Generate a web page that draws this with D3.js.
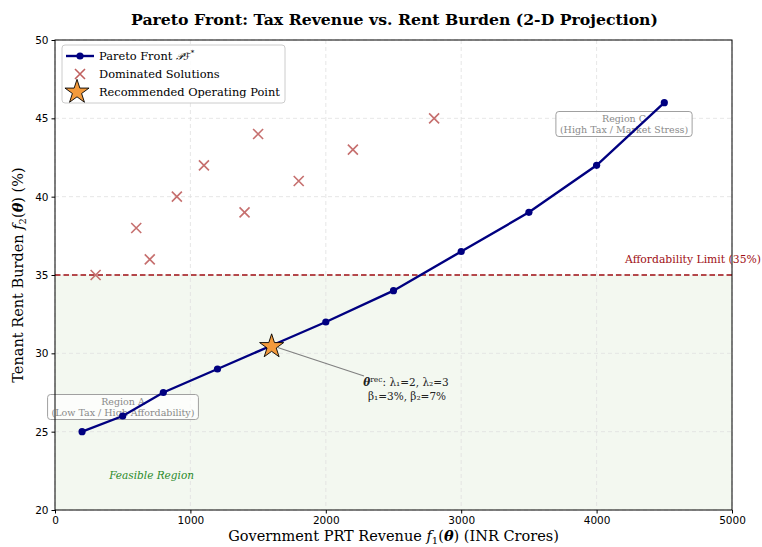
<!DOCTYPE html>
<html>
<head>
<meta charset="utf-8">
<script src="https://cdn.jsdelivr.net/npm/d3@7"></script>
<style>
  html, body { margin: 0; padding: 0; background: #fff; }
  svg { display: block; }
</style>
</head>
<body>
<svg id="chart" width="762" height="547"></svg>
<script>
// Pareto front (revenue in INR crores, rent burden in %)
const frontRevenue = [200, 500, 800, 1200, 1600, 2000, 2500, 3000, 3500, 4000, 4500];
const frontBurden  = [25, 26, 27.5, 29, 30.5, 32, 34, 36.5, 39, 42, 46];

// Dominated solutions
const domRevenue = [300, 600, 700, 900, 1100, 1400, 1500, 1800, 2200, 2800];
const domBurden  = [35, 38, 36, 40, 42, 39, 44, 41, 43, 45];

// Recommended operating point
const recRevenue = 1600;
const recBurden = 30.5;

// Affordability threshold (%)
const affordLimit = 35;

const xTicks = [0, 1000, 2000, 3000, 4000, 5000];
const yTicks = [20, 25, 30, 35, 40, 45, 50];

const svg = d3.select("#chart");
const m = { left: 55, right: 732, top: 40, bottom: 510 };
const serif = "'DejaVu Serif', serif";
const sans = "'DejaVu Sans', sans-serif";

const x = d3.scaleLinear().domain([0, 5000]).range([m.left, m.right]);
const y = d3.scaleLinear().domain([20, 50]).range([m.bottom, m.top]);

// Feasible region shading
svg.append("rect")
  .attr("x", x(0)).attr("y", y(affordLimit))
  .attr("width", x(5000) - x(0)).attr("height", y(20) - y(affordLimit))
  .attr("fill", "#eef5ea").attr("opacity", 0.7);

// Grid
const grid = svg.append("g");
xTicks.forEach(t => grid.append("line")
  .attr("x1", x(t)).attr("x2", x(t)).attr("y1", m.top).attr("y2", m.bottom)
  .attr("stroke", "#e0e0e0").attr("stroke-width", 0.8).attr("stroke-dasharray", "4,3"));
yTicks.forEach(t => grid.append("line")
  .attr("x1", m.left).attr("x2", m.right).attr("y1", y(t)).attr("y2", y(t))
  .attr("stroke", "#e0e0e0").attr("stroke-width", 0.8).attr("stroke-dasharray", "4,3"));

// Affordability limit line
svg.append("line")
  .attr("x1", m.left).attr("x2", m.right).attr("y1", y(affordLimit)).attr("y2", y(affordLimit))
  .attr("stroke", "#a00f15").attr("stroke-width", 1.5).attr("stroke-dasharray", "5.5,3");
svg.append("text")
  .attr("x", 761).attr("y", y(affordLimit) - 12.5)
  .attr("text-anchor", "end").attr("font-family", serif).attr("font-size", 10.8)
  .attr("fill", "#a00f15").text("Affordability Limit (35%)");

// Feasible region label
svg.append("text")
  .attr("x", x(400)).attr("y", y(22))
  .attr("font-family", serif).attr("font-size", 10.5).attr("font-style", "italic")
  .attr("fill", "#2a8a2a").text("Feasible Region");

// Region boxes (drawn beneath the front)
function regionBox(cx, cy, lines) {
  const g = svg.append("g");
  const texts = lines.map((l, i) => g.append("text")
    .attr("x", cx).attr("y", cy + (i - (lines.length - 1) / 2) * 11.5 + 3.5)
    .attr("text-anchor", "middle").attr("font-family", serif).attr("font-size", 9.5)
    .attr("fill", "#8a8a8a").text(l));
  let w = 0;
  texts.forEach(t => { w = Math.max(w, t.node().getComputedTextLength()); });
  g.insert("rect", "text")
    .attr("x", cx - w / 2 - 4).attr("y", cy - 12.5).attr("width", w + 8).attr("height", 25)
    .attr("rx", 3).attr("fill", "#ffffff").attr("fill-opacity", 0.7)
    .attr("stroke", "#a0a0a0").attr("stroke-width", 1);
}
regionBox(123, 407, ["Region A", "(Low Tax / High Affordability)"]);
regionBox(624, 124, ["Region C", "(High Tax / Market Stress)"]);

// Dominated solutions (x markers)
const xs = 5;
const dom = svg.append("g");
domRevenue.forEach((r, i) => {
  const cx = x(r), cy = y(domBurden[i]);
  dom.append("path")
    .attr("d", `M${cx - xs},${cy - xs}L${cx + xs},${cy + xs}M${cx - xs},${cy + xs}L${cx + xs},${cy - xs}`)
    .attr("stroke", "#c0605f").attr("stroke-width", 1.6).attr("opacity", 0.9);
});

// Pareto front line + markers
const frontData = frontRevenue.map((r, i) => [r, frontBurden[i]]);
svg.append("path")
  .datum(frontData)
  .attr("d", d3.line().x(d => x(d[0])).y(d => y(d[1])))
  .attr("fill", "none").attr("stroke", "#000080").attr("stroke-width", 2.4);
svg.append("g").selectAll("circle").data(frontData).join("circle")
  .attr("cx", d => x(d[0])).attr("cy", d => y(d[1])).attr("r", 3.6)
  .attr("fill", "#000080");

// Annotation arrow to recommended point
svg.append("line")
  .attr("x1", x(recRevenue) + 6).attr("y1", y(recBurden) + 2)
  .attr("x2", 364).attr("y2", 376)
  .attr("stroke", "#808080").attr("stroke-width", 1.2);
const ann = svg.append("text").attr("font-family", serif).attr("font-size", 10.5).attr("fill", "#222")
  .attr("text-anchor", "middle");
const l1 = ann.append("tspan").attr("x", 406).attr("y", 386);
l1.append("tspan").attr("font-weight", "bold").attr("font-style", "italic").text("θ");
l1.append("tspan").attr("font-size", 7.5).attr("dy", -4).text("rec");
l1.append("tspan").attr("dy", 4).text(": λ₁=2, λ₂=3");
ann.append("tspan").attr("x", 407).attr("y", 400).text("β₁=3%, β₂=7%");

// Recommended point (star)
const starPath = d3.symbol().type(d3.symbolStar).size(180)();
svg.append("path")
  .attr("d", starPath)
  .attr("transform", `translate(${x(recRevenue)},${y(recBurden) + 1})`)
  .attr("fill", "#f39a3c").attr("stroke", "#000").attr("stroke-width", 0.9);

// Axes frame
svg.append("rect")
  .attr("x", m.left).attr("y", m.top).attr("width", m.right - m.left).attr("height", m.bottom - m.top)
  .attr("fill", "none").attr("stroke", "#000").attr("stroke-width", 1);

const xAxis = svg.append("g").attr("transform", `translate(0,${m.bottom})`)
  .call(d3.axisBottom(x).tickValues(xTicks).tickSize(3.5).tickPadding(3).tickFormat(d3.format("d")));
const yAxis = svg.append("g").attr("transform", `translate(${m.left},0)`)
  .call(d3.axisLeft(y).tickValues(yTicks).tickSize(3.5).tickPadding(3).tickFormat(d3.format("d")));
[xAxis, yAxis].forEach(a => {
  a.select(".domain").remove();
  a.selectAll("text").attr("font-family", sans).attr("font-size", 10.5).attr("fill", "#000");
  a.selectAll("line").attr("stroke", "#000");
});

// Axis labels
const xl = svg.append("text")
  .attr("x", (m.left + m.right) / 2) .attr("y", 541)
  .attr("text-anchor", "middle").attr("font-family", serif).attr("font-size", 14.5).attr("fill", "#000");
xl.append("tspan").text("Government PRT Revenue ");
xl.append("tspan").attr("font-style", "italic").text("f");
xl.append("tspan").attr("font-size", 10).attr("dy", 3).text("1");
xl.append("tspan").attr("dy", -3).text("(");
xl.append("tspan").attr("font-weight", "bold").attr("font-style", "italic").text("θ");
xl.append("tspan").text(") (INR Crores)");

const yl = svg.append("text")
  .attr("transform", `translate(23,${(m.top + m.bottom) / 2}) rotate(-90)`)
  .attr("text-anchor", "middle").attr("font-family", serif).attr("font-size", 14.5).attr("fill", "#000");
yl.append("tspan").text("Tenant Rent Burden ");
yl.append("tspan").attr("font-style", "italic").text("f");
yl.append("tspan").attr("font-size", 10).attr("dy", 3).text("2");
yl.append("tspan").attr("dy", -3).text("(");
yl.append("tspan").attr("font-weight", "bold").attr("font-style", "italic").text("θ");
yl.append("tspan").text(") (%)");

// Title
svg.append("text")
  .attr("x", (m.left + m.right) / 2 + 1).attr("y", 25)
  .attr("text-anchor", "middle").attr("font-family", serif).attr("font-size", 15.7)
  .attr("font-weight", "bold").attr("fill", "#000")
  .text("Pareto Front: Tax Revenue vs. Rent Burden (2-D Projection)");

// Legend
const lg = svg.append("g").attr("transform", "translate(62,45)");
lg.append("rect").attr("width", 223).attr("height", 58).attr("rx", 3)
  .attr("fill", "#fff").attr("fill-opacity", 0.85).attr("stroke", "#ccc");
lg.append("line").attr("x1", 4).attr("x2", 32).attr("y1", 11).attr("y2", 11)
  .attr("stroke", "#000080").attr("stroke-width", 2.4);
lg.append("circle").attr("cx", 18).attr("cy", 11).attr("r", 3.6).attr("fill", "#000080");
lg.append("path").attr("d", "M13,24L23,34M13,34L23,24").attr("stroke", "#c0605f").attr("stroke-width", 1.6);
lg.append("path").attr("d", starPath).attr("transform", "translate(15,47)")
  .attr("fill", "#f39a3c").attr("stroke", "#000").attr("stroke-width", 0.9);
const legText = [["Pareto Front ", 15], ["Dominated Solutions", 33], ["Recommended Operating Point", 51]];
legText.forEach(([t, yy], i) => {
  const tx = lg.append("text").attr("x", 37).attr("y", yy)
    .attr("font-family", serif).attr("font-size", 11.4).attr("fill", "#000").text(t);
  if (i === 0) {
    tx.append("tspan").attr("font-style", "italic").attr("font-family", "'DejaVu Sans', serif").attr("font-size", 10).text("𝒫ℱ");
    tx.append("tspan").attr("font-size", 7).attr("dy", -5).text("*");
  }
});
</script>
</body>
</html>
